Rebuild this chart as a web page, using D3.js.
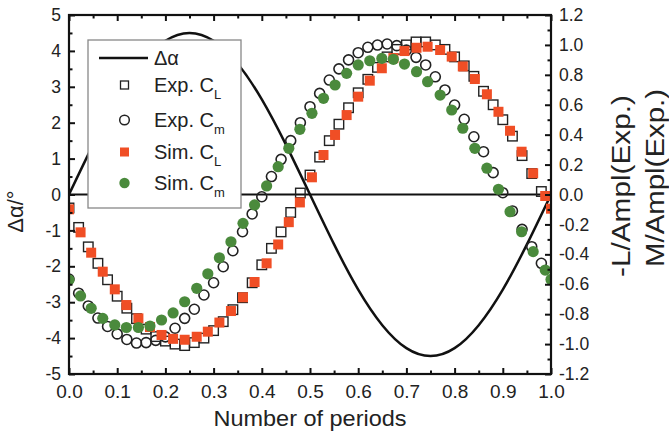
<!DOCTYPE html>
<html><head><meta charset="utf-8">
<script src="https://cdn.jsdelivr.net/npm/d3@7"></script>
<style>
html,body{margin:0;padding:0;background:#fff;}
svg{display:block;font-family:"Liberation Sans",Arial,Helvetica,sans-serif;}
</style></head>
<body>
<svg id="chart" width="669" height="436"></svg>
<script>
// ---------- data ----------
const xTicks = [0.0,0.1,0.2,0.3,0.4,0.5,0.6,0.7,0.8,0.9,1.0];
const xMinorTicks = [0.05,0.15,0.25,0.35,0.45,0.55,0.65,0.75,0.85,0.95];
const leftTicks = [-5,-4,-3,-2,-1,0,1,2,3,4,5];
const leftMinorTicks = [-4.5,-3.5,-2.5,-1.5,-0.5,0.5,1.5,2.5,3.5,4.5];
const rightTicks = [-1.2,-1.0,-0.8,-0.6,-0.4,-0.2,0.0,0.2,0.4,0.6,0.8,1.0,1.2];
const rightMinorTicks = [-1.1,-0.9,-0.7,-0.5,-0.3,-0.1,0.1,0.3,0.5,0.7,0.9,1.1];

// pitch amplitude curve (left axis, degrees)
const alphaX = [0,0.05,0.1,0.15,0.2,0.25,0.3,0.35,0.4,0.45,0.5,0.55,0.6,0.65,0.7,0.75,0.8,0.85,0.9,0.95,1.0];
const alphaVal = [0,1.39,2.65,3.64,4.28,4.5,4.28,3.64,2.65,1.39,0,-1.39,-2.65,-3.64,-4.28,-4.5,-4.28,-3.64,-2.65,-1.39,0];

// experiment (right axis)
const expX = [0.00,0.02,0.04,0.06,0.08,0.10,0.12,0.14,0.16,0.18,0.20,0.22,0.24,0.26,0.28,0.30,0.32,0.34,0.36,0.38,0.40,0.42,0.44,0.46,0.48,0.50,0.52,0.54,0.56,0.58,0.60,0.62,0.64,0.66,0.68,0.70,0.72,0.74,0.76,0.78,0.80,0.82,0.84,0.86,0.88,0.90,0.92,0.94,0.96,0.98];
const expCL = [-0.09,-0.22,-0.35,-0.46,-0.57,-0.68,-0.76,-0.83,-0.90,-0.95,-0.98,-1.00,-1.01,-0.99,-0.96,-0.91,-0.85,-0.77,-0.69,-0.59,-0.47,-0.36,-0.25,-0.12,0.01,0.13,0.25,0.36,0.47,0.58,0.68,0.77,0.85,0.92,0.97,1.00,1.02,1.02,1.00,0.97,0.92,0.86,0.79,0.69,0.60,0.50,0.39,0.26,0.14,0.02];
const expCm = [-0.565,-0.66,-0.745,-0.826,-0.882,-0.932,-0.969,-0.993,-0.99,-0.975,-0.952,-0.894,-0.828,-0.767,-0.672,-0.59,-0.483,-0.376,-0.249,-0.13,-0.015,0.12,0.235,0.36,0.48,0.587,0.676,0.765,0.84,0.90,0.948,0.984,0.999,1.006,0.995,0.965,0.917,0.866,0.787,0.699,0.598,0.503,0.386,0.286,0.146,0.012,-0.11,-0.233,-0.349,-0.46];

// simulation (right axis)
const simX = [0.000,0.024,0.046,0.070,0.095,0.119,0.144,0.168,0.192,0.216,0.240,0.265,0.288,0.312,0.336,0.361,0.385,0.410,0.434,0.456,0.479,0.504,0.528,0.552,0.576,0.600,0.624,0.649,0.673,0.696,0.721,0.744,0.770,0.794,0.817,0.842,0.867,0.891,0.915,0.939,0.963,0.988,1.000];
const simCL = [-0.099,-0.253,-0.389,-0.516,-0.634,-0.739,-0.828,-0.886,-0.939,-0.965,-0.971,-0.951,-0.917,-0.856,-0.779,-0.687,-0.585,-0.460,-0.334,-0.185,-0.053,0.115,0.264,0.398,0.531,0.654,0.761,0.844,0.912,0.959,0.981,0.988,0.966,0.922,0.856,0.772,0.670,0.553,0.426,0.286,0.142,-0.010,-0.095];
const simCm = [-0.572,-0.678,-0.761,-0.828,-0.872,-0.889,-0.889,-0.879,-0.839,-0.792,-0.717,-0.627,-0.530,-0.423,-0.316,-0.193,-0.070,0.057,0.186,0.309,0.436,0.543,0.643,0.732,0.810,0.866,0.894,0.910,0.904,0.872,0.821,0.754,0.665,0.565,0.443,0.309,0.176,0.035,-0.115,-0.249,-0.382,-0.505,-0.568];

const legendItems = ["Δα","Exp. C|L","Exp. C|m","Sim. C|L","Sim. C|m"];

// ---------- drawing ----------
const svg = d3.select("#chart");
const X0=69, X1=551, Y0=15, Y1=374;
const x = d3.scaleLinear().domain([0,1]).range([X0,X1]);
const yL = d3.scaleLinear().domain([-5,5]).range([Y1,Y0]);
const yR = d3.scaleLinear().domain([-1.2,1.2]).range([Y1,Y0]);

const RED = "#f04e25", GREEN = "#4a8a3c", INK = "#111";

svg.append("defs").append("clipPath").attr("id","plotclip")
  .append("rect").attr("x",X0).attr("y",Y0).attr("width",X1-X0).attr("height",Y1-Y0);
const plot = svg.append("g").attr("clip-path","url(#plotclip)");

// zero line
plot.append("line").attr("x1",x(0)).attr("x2",x(1)).attr("y1",yL(0)).attr("y2",yL(0))
  .attr("stroke",INK).attr("stroke-width",2);

// delta alpha curve
const alphaPts = alphaX.map((d,i)=>[d,alphaVal[i]]);
plot.append("path").datum(alphaPts)
  .attr("d", d3.line().x(d=>x(d[0])).y(d=>yL(d[1])).curve(d3.curveNatural))
  .attr("fill","none").attr("stroke",INK).attr("stroke-width",2.5);

// experiment markers
const sq = 9.5;
plot.append("g").selectAll("rect").data(expX.map((d,i)=>[d,expCL[i]])).join("rect")
  .attr("x",d=>x(d[0])-sq/2).attr("y",d=>yR(d[1])-sq/2).attr("width",sq).attr("height",sq)
  .attr("fill","none").attr("stroke","#222").attr("stroke-width",1.4);
plot.append("g").selectAll("circle").data(expX.map((d,i)=>[d,expCm[i]])).join("circle")
  .attr("cx",d=>x(d[0])).attr("cy",d=>yR(d[1])).attr("r",5)
  .attr("fill","none").attr("stroke","#222").attr("stroke-width",1.6);

// simulation markers
const rs = 10;
plot.append("g").selectAll("rect").data(simX.map((d,i)=>[d,simCL[i]])).join("rect")
  .attr("x",d=>x(d[0])-rs/2).attr("y",d=>yR(d[1])-rs/2).attr("width",rs).attr("height",rs)
  .attr("fill",RED);
plot.append("g").selectAll("circle").data(simX.map((d,i)=>[d,simCm[i]])).join("circle")
  .attr("cx",d=>x(d[0])).attr("cy",d=>yR(d[1])).attr("r",5.6)
  .attr("fill",GREEN);

// axes
function styleAxis(g, fs){
  g.select(".domain").remove();
  g.selectAll(".tick line").attr("stroke",INK).attr("stroke-width",2);
  g.selectAll("text").attr("fill","#222").attr("font-size",fs)
   .attr("font-family","'Liberation Sans',Arial,sans-serif");
}
svg.append("g").attr("transform",`translate(0,${Y1})`)
  .call(d3.axisBottom(x).tickValues(xTicks).tickSize(-6).tickPadding(11).tickFormat(d=>d.toFixed(1)))
  .call(g=>styleAxis(g,19));
svg.append("g").attr("transform",`translate(0,${Y1})`)
  .call(d3.axisBottom(x).tickValues(xMinorTicks).tickSize(-3.5).tickFormat(""))
  .call(g=>styleAxis(g,0));
svg.append("g").attr("transform",`translate(0,${Y0})`)
  .call(d3.axisTop(x).tickValues(xTicks).tickSize(-6).tickFormat(""))
  .call(g=>styleAxis(g,0));
svg.append("g").attr("transform",`translate(0,${Y0})`)
  .call(d3.axisTop(x).tickValues(xMinorTicks).tickSize(-3.5).tickFormat(""))
  .call(g=>styleAxis(g,0));
svg.append("g").attr("transform",`translate(${X0},0)`)
  .call(d3.axisLeft(yL).tickValues(leftTicks).tickSize(-6).tickPadding(8).tickFormat(d=>String(d)))
  .call(g=>styleAxis(g,17.5));
svg.append("g").attr("transform",`translate(${X0},0)`)
  .call(d3.axisLeft(yL).tickValues(leftMinorTicks).tickSize(-3.5).tickFormat(""))
  .call(g=>styleAxis(g,0));
svg.append("g").attr("transform",`translate(${X1},0)`)
  .call(d3.axisRight(yR).tickValues(rightTicks).tickSize(-6).tickPadding(8).tickFormat(d=>d.toFixed(1)))
  .call(g=>styleAxis(g,17.5));
svg.append("g").attr("transform",`translate(${X1},0)`)
  .call(d3.axisRight(yR).tickValues(rightMinorTicks).tickSize(-3.5).tickFormat(""))
  .call(g=>styleAxis(g,0));

// frame
svg.append("rect").attr("x",X0).attr("y",Y0).attr("width",X1-X0).attr("height",Y1-Y0)
  .attr("fill","none").attr("stroke",INK).attr("stroke-width",2.2);

// axis titles
svg.append("text").attr("x",(X0+X1)/2).attr("y",426).attr("text-anchor","middle")
  .attr("font-size",22).attr("fill","#222").attr("textLength",193).attr("lengthAdjust","spacingAndGlyphs")
  .text("Number of periods");
svg.append("text").attr("transform","translate(23,211.5) rotate(-90)").attr("text-anchor","middle")
  .attr("font-size",22).attr("fill","#222").text("Δα/°");
svg.append("text").attr("transform","translate(630,186) rotate(-90)").attr("text-anchor","middle")
  .attr("font-size",26).attr("fill","#222").attr("textLength",182).attr("lengthAdjust","spacingAndGlyphs")
  .text("-L/Ampl(Exp.)");
svg.append("text").attr("transform","translate(664,178) rotate(-90)").attr("text-anchor","middle")
  .attr("font-size",26).attr("fill","#222").attr("textLength",178).attr("lengthAdjust","spacingAndGlyphs")
  .text("M/Ampl(Exp.)");

// legend
const lg = svg.append("g");
lg.append("rect").attr("x",88).attr("y",40).attr("width",153).attr("height",168)
  .attr("fill","#fff").attr("stroke","#888").attr("stroke-width",1.3);
const rowY = [58,85,120,152,183];
lg.append("line").attr("x1",99).attr("x2",148).attr("y1",rowY[0]).attr("y2",rowY[0])
  .attr("stroke",INK).attr("stroke-width",2.5);
lg.append("rect").attr("x",124.5-4).attr("y",rowY[1]-4).attr("width",8).attr("height",8)
  .attr("fill","none").attr("stroke","#222").attr("stroke-width",1.3);
lg.append("circle").attr("cx",124.5).attr("cy",rowY[2]).attr("r",4.8)
  .attr("fill","none").attr("stroke","#222").attr("stroke-width",1.5);
lg.append("rect").attr("x",124.5-4.5).attr("y",rowY[3]-4.5).attr("width",9).attr("height",9).attr("fill",RED);
lg.append("circle").attr("cx",124.5).attr("cy",rowY[4]).attr("r",5.2).attr("fill",GREEN);
legendItems.forEach((s,i)=>{
  const parts = s.split("|");
  const t = lg.append("text").attr("x",154).attr("y",rowY[i]+7).attr("font-size",20).attr("fill","#222");
  t.append("tspan").text(parts[0]);
  if(parts[1]) t.append("tspan").attr("font-size",13).attr("dy",7).text(parts[1]);
});
</script>
</body></html>
